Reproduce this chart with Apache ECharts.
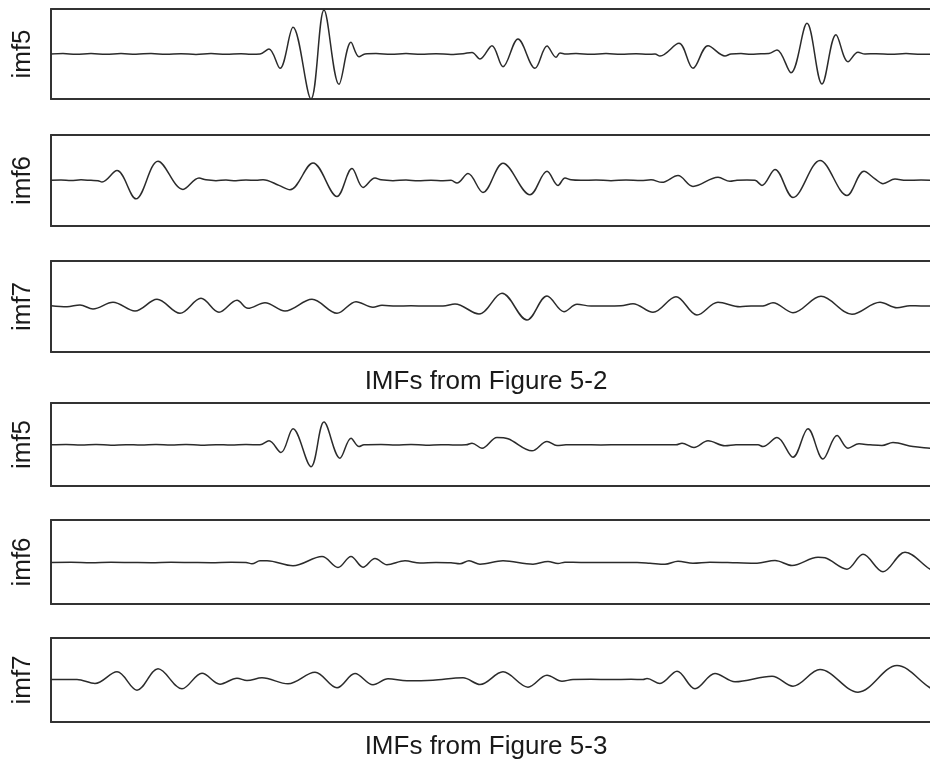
<!DOCTYPE html>
<html>
<head>
<meta charset="utf-8">
<script src="https://cdn.jsdelivr.net/npm/echarts@6/dist/echarts.min.js"></script>
<style>
html,body{margin:0;padding:0;background:#fff;overflow:hidden;}
#chart{width:930px;height:760px;}
</style>
</head>
<body>
<div id="chart"></div>
<script>
// Panel labels and captions
const panelLabels = ['imf5', 'imf6', 'imf7', 'imf5', 'imf6', 'imf7'];
const captions = ['IMFs from Figure 5-2', 'IMFs from Figure 5-3'];

// Each series: [sample position, amplitude]
const fig52_imf5 = [[0,0],[12,0.5],[25,-0.3],[40,0.4],[55,-0.3],[70,0.4],[85,-0.2],[100,0.5],[115,-0.3],[130,0.3],[145,-0.4],[160,0.4],[175,-0.2],[190,0.3],[200,-0.3],[209,0],[218,5],[229,-14.3],[242,26.7],[260,-45],[273,44],[288,-30.3],[300,11.7],[308,-2.7],[314,0],[325,0.4],[340,-0.3],[355,0.4],[370,-0.3],[385,0.3],[400,-0.4],[412,0.3],[421,1.5],[429,-5],[441,8.3],[452,-12.7],[467,15],[484,-14.3],[496,8],[505,-3.3],[509,1],[515,0],[525,0.4],[540,-0.3],[555,0.4],[570,-0.3],[585,0.3],[597,-0.3],[604,0],[609,-2],[628,10.7],[642,-14.3],[657,8.3],[674,-2],[680,0],[690,0.4],[700,-0.3],[710,0.3],[718,0.5],[726,4],[740,-18.7],[756,30.7],[771,-30],[785,19.3],[797,-7.7],[807,1.7],[814,0],[825,0.3],[840,-0.3],[855,0.4],[870,-0.3],[884,0]];

const fig52_imf6 = [[0,0],[10,0.3],[20,-0.2],[30,0.5],[40,0],[47,-0.3],[51,-1.7],[66,9.7],[85,-18.3],[107,19],[132,-9],[148,2.3],[155,0.5],[165,-0.3],[175,0.3],[185,-0.4],[195,0.4],[205,0],[212,0.7],[228,-5],[239,-9.3],[262,17.3],[286,-16],[301,11.7],[312,-7],[324,2.3],[330,0.5],[342,-0.3],[355,0.3],[367,-0.5],[380,0.2],[392,-0.3],[400,0],[406,-2.7],[417,6.7],[432,-12],[452,17],[479,-14.3],[496,9],[507,-5],[514,2.3],[520,0.5],[530,0],[545,0.3],[560,-0.3],[575,0.3],[590,-0.2],[600,0.5],[611,-2],[627,4.7],[642,-6],[667,3],[679,-1],[686,0],[696,0.3],[704,0],[711,-5],[724,10.7],[742,-17],[769,19.7],[796,-15],[813,9],[824,1.5],[832,-3.3],[844,1.3],[855,0],[870,0.3],[884,0]];

const fig52_imf7 = [[0,0.3],[16,-0.7],[29,1],[42,-3],[62,3.7],[84,-5],[106,6.7],[129,-7.3],[150,7.7],[168,-6.3],[186,5.7],[197,-2.3],[214,3.3],[234,-5],[261,6.7],[286,-7.3],[305,4.3],[322,-1.3],[331,0.7],[345,0],[360,0.2],[375,0],[392,0],[404,2],[428,-8],[451,12.7],[476,-14],[496,10],[513,-5.7],[526,1.7],[540,0],[555,0],[570,0.2],[582,2.3],[602,-6.3],[625,9.3],[646,-9],[667,3.7],[689,-0.7],[700,0],[712,0.1],[722,3.3],[742,-6.7],[770,9.7],[801,-8.3],[829,3.7],[846,-1.7],[859,0.3],[870,0],[884,0]];

const fig53_imf5 = [[0,0],[15,0.3],[30,-0.2],[45,0.3],[60,-0.3],[75,0.2],[90,-0.2],[105,0.3],[120,-0.2],[135,0.3],[150,-0.3],[165,0.2],[180,-0.2],[195,0.3],[209,0],[218,4],[230,-7.7],[242,16],[260,-21.7],[273,22.7],[289,-13.3],[300,6.7],[308,-1.7],[313,0],[330,0.3],[345,-0.2],[360,0.3],[375,-0.3],[390,0.2],[405,-0.2],[415,0],[421,1.7],[431,-3.3],[446,7.3],[457,6],[481,-6],[496,3.3],[506,-0.7],[515,0],[530,0.1],[550,-0.1],[570,0.1],[590,0],[610,0.1],[625,0],[631,1.7],[643,-2.7],[657,4],[674,-1],[685,0],[697,0.1],[707,0],[712,-1.7],[726,7.3],[742,-12.3],[757,16],[772,-14],[786,9.3],[797,-3.3],[808,1],[819,0],[831,-0.7],[842,2.3],[862,-1.7],[879,-3.3],[884,-3.8]];

const fig53_imf6 = [[0,0],[20,0.2],[40,-0.2],[60,0.2],[80,0],[100,-0.2],[120,0.2],[140,0],[160,-0.2],[180,0.2],[195,0],[201,-1.3],[209,1.7],[216,1.7],[242,-3.3],[271,6],[287,-5],[300,6],[312,-4.7],[324,4],[336,-2.3],[354,1.7],[369,-0.5],[385,0],[400,-0.3],[409,-1.3],[418,1.7],[429,-1.7],[452,1.7],[482,-1.7],[497,1],[507,-1],[514,0.3],[530,0],[550,0.1],[570,-0.1],[586,0],[599,-0.7],[614,-1.7],[627,1.3],[642,-0.7],[659,0.3],[686,-0.3],[706,-0.7],[724,2],[741,-3],[767,5.3],[774,4.7],[796,-6.7],[812,8.3],[832,-9.3],[854,10.3],[879,-6.7],[884,-8]];

const fig53_imf7 = [[0,0],[26,0],[44,-4],[66,7.7],[86,-10.7],[107,10.7],[131,-9.3],[151,6.3],[169,-4.7],[186,1.3],[196,-1],[211,1.7],[237,-4.3],[264,7.3],[286,-8.3],[304,6],[322,-5.3],[337,0.7],[356,-1.3],[382,-0.7],[412,1.7],[429,-5],[452,7.7],[477,-7.7],[496,4.3],[511,-1.7],[522,0],[540,0.2],[560,0],[580,0.2],[592,0],[596,1],[609,-4],[626,8.3],[644,-9.3],[664,6],[684,-2.3],[721,3.3],[742,-6.7],[769,10],[807,-12.7],[846,14],[879,-8.3],[884,-10]];

// Amplitude range of each panel
const yMin = [-45, -45.3, -46, -41, -41.7, -42.7];
const yMax = [45, 45, 45, 41.7, 42.7, 41.7];
const tMax = 879;

const seriesData = [fig52_imf5, fig52_imf6, fig52_imf7, fig53_imf5, fig53_imf6, fig53_imf7];

// layout (pixels)
const gridBoxes = [
  {top: 9, height: 90},
  {top: 135, height: 91},
  {top: 261, height: 91},
  {top: 403, height: 83},
  {top: 520, height: 84},
  {top: 638, height: 84}
];

const FONT = 'Liberation Sans, Arial, Helvetica, sans-serif';
const frameLine = {show: true, onZero: false, lineStyle: {color: '#333', width: 2}};

const grid = gridBoxes.map(b => ({left: 51, top: b.top, width: 879, height: b.height, show: false}));

const xAxis = [];
gridBoxes.forEach((b, i) => {
  ['bottom', 'top'].forEach(pos => {
    xAxis.push({
      type: 'value', gridIndex: i, min: 0, max: tMax, position: pos,
      axisLine: frameLine, axisTick: {show: false}, axisLabel: {show: false}, splitLine: {show: false}
    });
  });
});

const yAxis = gridBoxes.map((b, i) => ({
  type: 'value', gridIndex: i, min: yMin[i], max: yMax[i], position: 'left',
  name: panelLabels[i], nameLocation: 'middle', nameRotate: 90, nameGap: 15,
  nameTextStyle: {fontSize: 26, fontFamily: FONT, color: '#1a1a1a'},
  axisLine: frameLine, axisTick: {show: false}, axisLabel: {show: false}, splitLine: {show: false}
}));

const series = seriesData.map((d, i) => ({
  type: 'line', xAxisIndex: 2 * i, yAxisIndex: i,
  data: d,
  showSymbol: false, symbol: 'none', smooth: 0.35,
  lineStyle: {color: '#2b2b2b', width: 1.5},
  animation: false
}));

const title = [
  {text: captions[0], left: 481, top: 364, textAlign: 'center',
   textStyle: {fontSize: 26, fontWeight: 'normal', fontFamily: FONT, color: '#1a1a1a'}},
  {text: captions[1], left: 481, top: 729, textAlign: 'center',
   textStyle: {fontSize: 26, fontWeight: 'normal', fontFamily: FONT, color: '#1a1a1a'}}
];

const chart = echarts.init(document.getElementById('chart'), null, {renderer: 'canvas'});
chart.setOption({
  animation: false,
  backgroundColor: '#fff',
  title: title,
  grid: grid,
  xAxis: xAxis,
  yAxis: yAxis,
  series: series
});
</script>
</body>
</html>
